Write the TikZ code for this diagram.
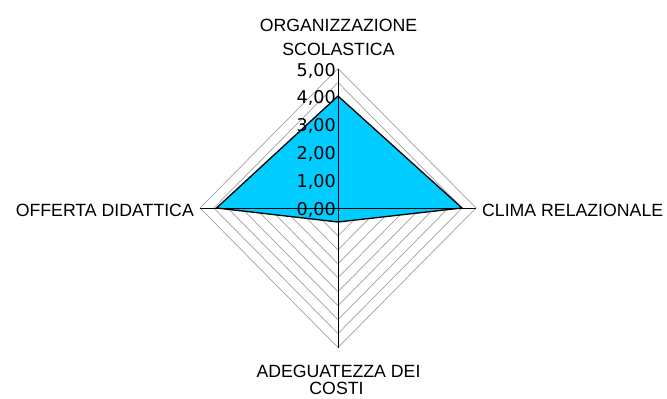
\documentclass[tikz,border=0pt]{standalone}
\usepackage{fontspec}
\setmainfont{Liberation Sans}
\newfontfamily\numfont{DejaVu Sans}
\definecolor{fillcyan}{RGB}{0,204,255}
\definecolor{gridgray}{RGB}{160,160,160}
\begin{document}
\begin{tikzpicture}[x=1pt,y=-1pt,
  gridline/.style={draw=gridgray,line width=0.7pt},
  axisline/.style={draw=black,line width=0.8pt},
  poly/.style={fill=fillcyan,draw=black,line width=1.3pt,line join=miter},
  catlab/.style={inner sep=0pt,font=\fontsize{17.7}{24}\selectfont},
  numlab/.style={inner sep=0pt,anchor=base east,font=\numfont\fontsize{17.6}{20}\selectfont}]
\useasboundingbox (0,0) rectangle (667,399);
\coordinate (c) at (338,208);
% grid
\foreach \k in {1,...,10}
  \draw[gridline] (338,208-13.95*\k) -- (338+13.8*\k,208) -- (338,208+13.95*\k) -- (338-13.8*\k,208) -- cycle;
% data polygon
\coordinate (pt) at (338,96);
\coordinate (pr) at (462,208);
\coordinate (pb) at (338,222);
\coordinate (pl) at (216.5,208);
\draw[poly] (pt) -- (pr) -- (pb) -- (pl) -- cycle;
% axes
\coordinate (at) at (338,68.5);
\coordinate (ar) at (476,208);
\coordinate (ab) at (338,347.5);
\coordinate (al) at (200,208);
\draw[axisline] (c) -- (at);
\draw[axisline] (c) -- (ar);
\draw[axisline] (c) -- (ab);
\draw[axisline] (c) -- (al);
% scale labels
\foreach \k in {0,...,5}
  \node[numlab] (n\k) at (336,208-27.8*\k+7) {\k,00};
% category labels
\node[catlab,anchor=base] (t1) at (338.5,31.5) {ORGANIZZAZIONE};
\node[catlab,anchor=base] (t2) at (338.5,55) {SCOLASTICA};
\node[catlab,anchor=base west] (r1) at (482,216) {CLIMA RELAZIONALE};
\node[catlab,anchor=base east] (l1) at (194,216.5) {OFFERTA DIDATTICA};
\node[catlab,anchor=base] (b1) at (338.5,377) {ADEGUATEZZA DEI};
\node[catlab,anchor=base] (b2) at (336.5,394.5) {COSTI};
\end{tikzpicture}
\end{document}
